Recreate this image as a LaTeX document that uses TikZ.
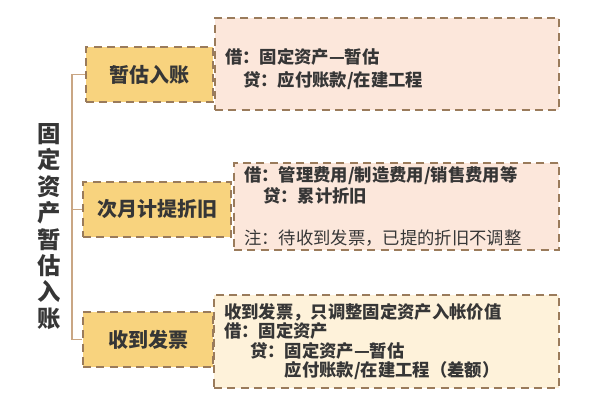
\documentclass[tikz,border=0pt]{standalone}
\usepackage{fontspec}
\setmainfont{Noto Sans CJK SC}
\usetikzlibrary{positioning}
\definecolor{ink}{HTML}{363636}
\definecolor{dashbrown}{HTML}{9A7B5B}
\definecolor{linkbrown}{HTML}{C9A684}
\definecolor{stepyellow}{HTML}{F8D37E}
\definecolor{notepink}{HTML}{FCE7DB}
\definecolor{notecream}{HTML}{FEF2DA}
\begin{document}
\begin{tikzpicture}[x=0.75pt,y=-0.75pt,
    stepbox/.style={draw=dashbrown,line width=1.6pt,dash pattern=on 6pt off 4pt,
        fill=stepyellow,text=ink,font=\fontsize{15}{17}\selectfont\bfseries,
        minimum height=41.25pt,inner sep=0pt},
    notebox/.style={draw=dashbrown,line width=1.6pt,dash pattern=on 6pt off 4pt,
        text=ink,font=\fontsize{13}{17.25}\selectfont\bfseries,align=left,
        inner xsep=7.5pt,inner ysep=0pt,anchor=west},
    link/.style={draw=linkbrown,line width=1.3pt}]
    \useasboundingbox (0,0) rectangle (600,400);
    \node[text=ink,font=\fontsize{17.5}{19.8}\selectfont\bfseries,align=center] (title) at (49,226.5)
        {固\\定\\资\\产\\暂\\估\\入\\账};
    \node[stepbox,minimum width=95.25pt] (zangu) at (149.5,74.5) {暂估入账};
    \node[stepbox,minimum width=111pt] (zhejiu) at (157,209.5) {次月计提折旧};
    \node[stepbox,minimum width=97.5pt] (fapiao) at (148,339.5) {收到发票};
    \node[notebox,fill=notepink,text width=243pt,minimum height=69pt] (zangunote) at (214,64)
        {\rule{0pt}{19pt}借：固定资产—暂估\\\hspace{1.05em}贷：应付账款/在建工程};
    \node[notebox,fill=notepink,text width=228.75pt,minimum height=65.25pt,
        font=\fontsize{13}{15.8}\selectfont\bfseries] (zhejiunote) at (233,206.5)
        {借：管理费用/制造费用/销售费用等\\\hspace{1.1em}贷：累计折旧\\[15.8pt]\mdseries 注：待收到发票，已提的折旧不调整};
    \node[notebox,fill=notecream,text width=243.75pt,minimum height=69.75pt,
        font=\fontsize{13}{14.6}\selectfont\bfseries] (fapiaonote) at (213,341.5)
        {收到发票，只调整固定资产入帐价值\\借：固定资产\\\hspace{1.5em}贷：固定资产—暂估\\\hspace{1.5em}\phantom{贷：}应付账款/在建工程（差额）};
    \coordinate (trunk) at (72,0);
    \draw[link] (zangu.west) -- (zangu.west -| trunk) -- (fapiao.west -| trunk) -- (fapiao.west);
    \draw[link] (zhejiu.west) -- (zhejiu.west -| trunk);
\end{tikzpicture}
\end{document}
